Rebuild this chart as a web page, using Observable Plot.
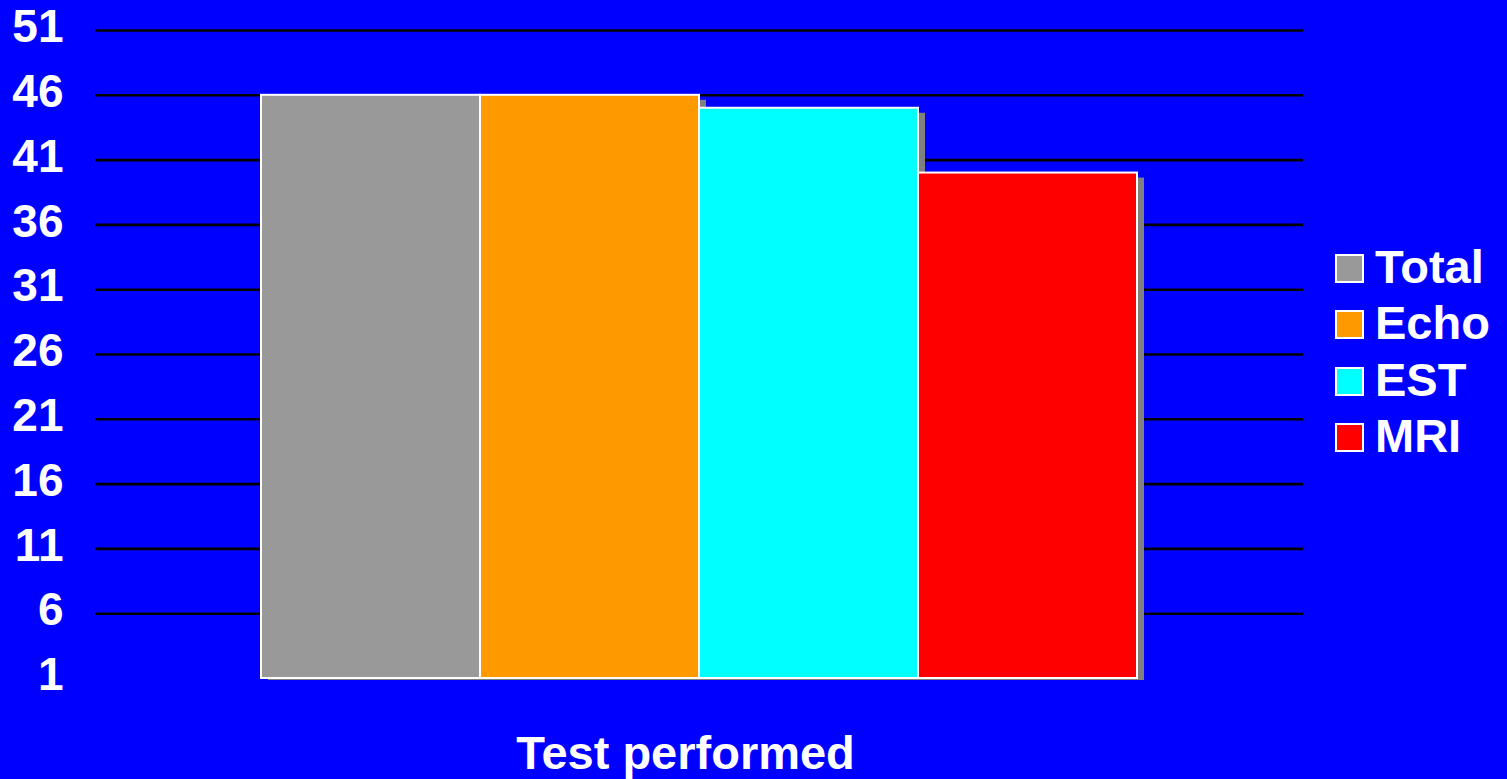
<!DOCTYPE html>
<html><head><meta charset="utf-8">
<script src="https://cdn.jsdelivr.net/npm/d3@7"></script>
<script src="https://cdn.jsdelivr.net/npm/@observablehq/plot@0.6"></script>
<style>
html,body{margin:0;padding:0;background:#0000ff;overflow:hidden}
#wrap{position:relative;width:1507px;height:779px;background:#0000ff}
.lg-sw{position:absolute;box-sizing:border-box;width:29px;height:29px;border:2px solid #fff}
.lg-tx{position:absolute;font-family:"Liberation Sans",Arial,sans-serif;font-weight:bold;font-size:47px;line-height:47px;color:#fff;white-space:nowrap}
</style>
</head><body>
<div id="wrap"></div>
<script>
const categories = ["Total", "Echo", "EST", "MRI"];
const values = [46, 46, 45, 40];
const colors = ["#999999", "#ff9900", "#00ffff", "#ff0000"];
const yTicks = [1, 6, 11, 16, 21, 26, 31, 36, 41, 46, 51];
const gridTicks = [6, 11, 16, 21, 26, 31, 36, 41, 46, 51];
const xLabel = "Test performed";

const data = categories.map((name, i) => ({name, value: values[i]}));

const plot = Plot.plot({
  width: 1507,
  height: 779,
  marginLeft: 95,
  marginRight: 204,
  marginTop: 30,
  marginBottom: 101,
  style: {background: "#0000ff", color: "white", fontFamily: "'Liberation Sans', Arial, sans-serif"},
  x: {type: "band", domain: categories, range: [260, 1137], padding: 0, axis: null},
  y: {domain: [1, 51]},
  color: {domain: categories, range: colors},
  marks: [
    Plot.ruleY(gridTicks, {stroke: "black", strokeWidth: 2.6}),
    Plot.barY(data, {x: "name", y1: 1, y2: "value", fill: "#808080", dx: 7, dy: 5, insetBottom: 3}),
    Plot.barY(data, {x: "name", y1: 1, y2: "value", fill: "name", stroke: "white", strokeWidth: 2}),
    Plot.axisY({ticks: yTicks, tickSize: 0, tickPadding: 32, fontSize: 46, fontWeight: "bold", fill: "white", dy: -3, label: null}),
    Plot.text([xLabel], {frameAnchor: "bottom", text: d => d, fontSize: 47, fontWeight: "bold", fill: "white", lineAnchor: "bottom", dy: 90, dx: -14})
  ]
});

const wrap = document.getElementById("wrap");
wrap.appendChild(plot);

categories.forEach((name, i) => {
  const sw = document.createElement("div");
  sw.className = "lg-sw";
  sw.style.left = "1335px";
  sw.style.top = (254 + i * 56.3) + "px";
  sw.style.background = colors[i];
  wrap.appendChild(sw);
  const tx = document.createElement("div");
  tx.className = "lg-tx";
  tx.style.left = "1375px";
  tx.style.top = (243 + i * 56.3) + "px";
  tx.textContent = name;
  wrap.appendChild(tx);
});
</script>
</body></html>
